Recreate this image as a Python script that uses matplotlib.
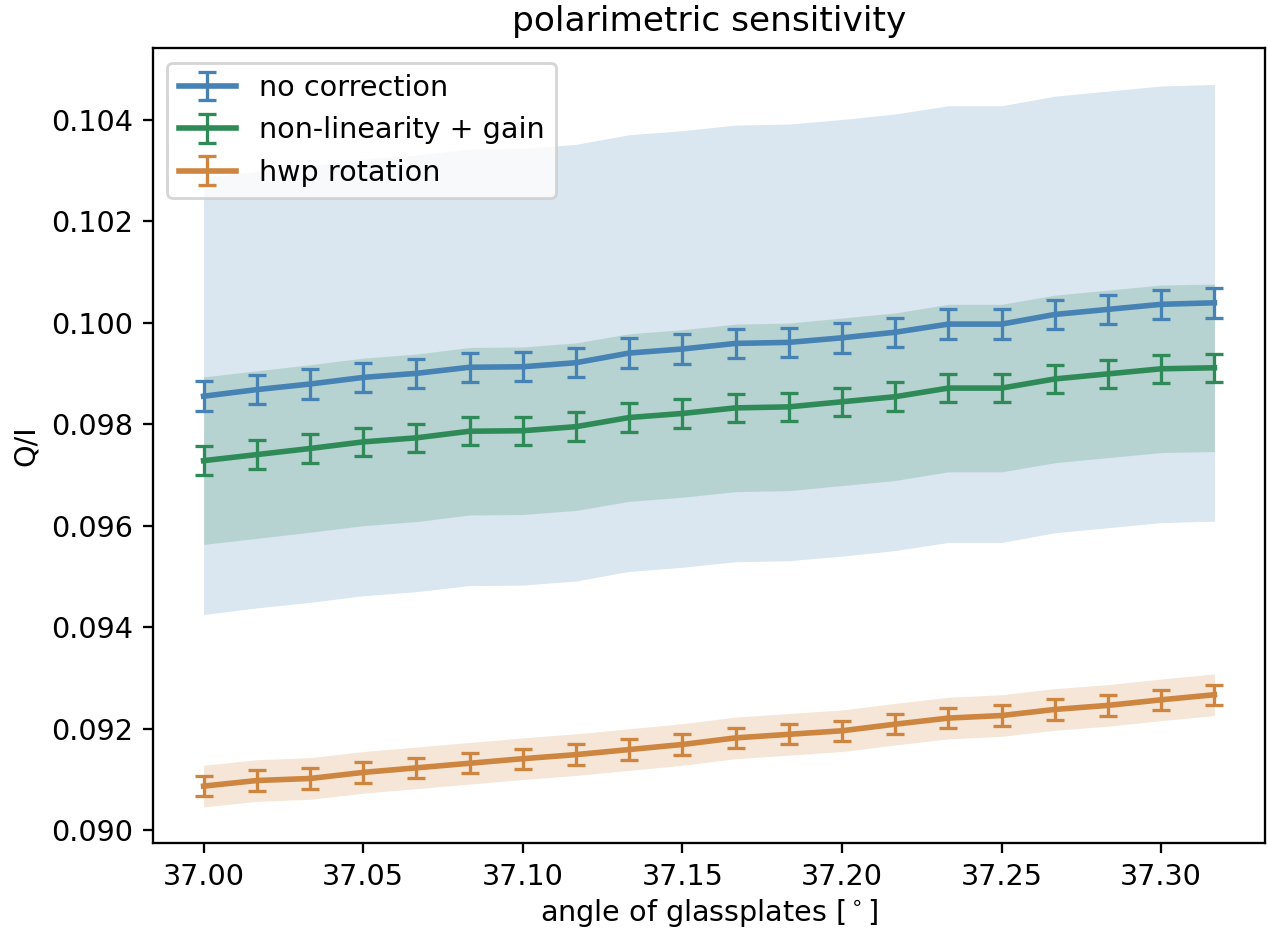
import numpy as np
import matplotlib
matplotlib.use("Agg")
import matplotlib.pyplot as plt

# angle of glassplates, 1 arcmin steps
angles = [37.0 + i / 60 for i in range(20)]

q_nocorr = [0.09855, 0.09868, 0.09879, 0.09892, 0.09900, 0.09912, 0.09913, 0.09921, 0.09940, 0.09948,
            0.09959, 0.09961, 0.09970, 0.09981, 0.09997, 0.09997, 0.10016, 0.10026, 0.10036, 0.10039]
q_nonlin = [0.09728, 0.09740, 0.09752, 0.09765, 0.09773, 0.09786, 0.09787, 0.09795, 0.09813, 0.09821,
            0.09832, 0.09834, 0.09844, 0.09854, 0.09871, 0.09871, 0.09889, 0.09899, 0.09909, 0.09911]
q_hwp = [0.09087, 0.09098, 0.09102, 0.09114, 0.09123, 0.09132, 0.09141, 0.09149, 0.09159, 0.09169,
         0.09182, 0.09189, 0.09196, 0.09209, 0.09221, 0.09226, 0.09238, 0.09246, 0.09257, 0.09267]

# statistical error (error bars) and systematic spread (bands)
err_nocorr = 0.00029
err_nonlin = 0.00028
err_hwp = 0.00020
band_nocorr = 0.0043
band_nonlin = 0.00165
band_hwp = 0.00041

series = [
    ("no correction", q_nocorr, err_nocorr, band_nocorr, "steelblue"),
    ("non-linearity + gain", q_nonlin, err_nonlin, band_nonlin, "seagreen"),
    ("hwp rotation", q_hwp, err_hwp, band_hwp, "peru"),
]

dpi = 206
fig = plt.figure(figsize=(1268 / dpi, 930 / dpi), dpi=dpi)
ax = fig.add_axes([0.1207, 0.0935, 0.8769, 0.8545])

for label, q, err, band, col in series:
    q = np.array(q)
    ax.errorbar(angles, q, yerr=err, color=col, lw=1.95, elinewidth=1.15,
                capsize=3, capthick=1.15, label=label, zorder=3)
    ax.fill_between(angles, q - band, q + band, color=col, alpha=0.2, lw=0, zorder=1)

ax.set_title("polarimetric sensitivity")
ax.set_xlabel(r"angle of glassplates [$^\circ$]", labelpad=2)
ax.set_ylabel("Q/I")
ax.legend(loc="upper left")

fig.savefig("out.png", dpi=dpi)
